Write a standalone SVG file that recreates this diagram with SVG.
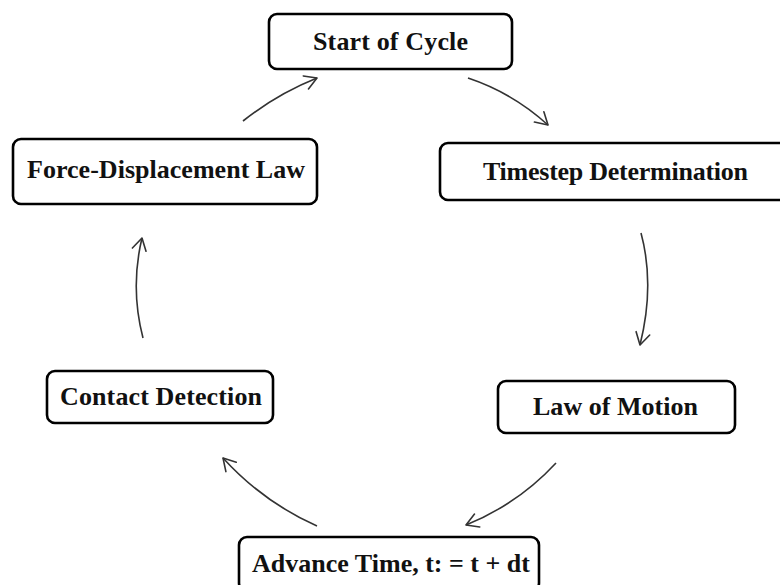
<svg xmlns="http://www.w3.org/2000/svg" width="780" height="585" viewBox="0 0 780 585">
<defs>
<style>
.box{fill:#fff;stroke:#000;stroke-width:2.6}
.lbl{font-family:"Liberation Serif","Times New Roman",serif;font-weight:bold;font-size:26px;fill:#111;text-anchor:middle}
.conn{fill:none;stroke:#333;stroke-width:1.6}
</style>
<marker id="arr" markerUnits="userSpaceOnUse" markerWidth="30" markerHeight="30" refX="0" refY="0" viewBox="-15 -15 30 30" orient="auto">
<path d="M-12,-7 L0,0 L-12,7" fill="none" stroke="#333" stroke-width="1.6" stroke-linecap="round" stroke-linejoin="round"/>
</marker>
</defs>
<rect width="780" height="585" fill="#fff"/>
<g id="connectors">
<path class="conn" d="M243,121 Q277,94 317,78" marker-end="url(#arr)"/>
<path class="conn" d="M468,78 Q513,93 548,125" marker-end="url(#arr)"/>
<path class="conn" d="M641,233 Q655,285 640,345" marker-end="url(#arr)"/>
<path class="conn" d="M556,463 Q518,504 466,525" marker-end="url(#arr)"/>
<path class="conn" d="M317,526 Q263,502 223,458" marker-end="url(#arr)"/>
<path class="conn" d="M143,338 Q130,288 142,238" marker-end="url(#arr)"/>
</g>
<g id="start">
<rect class="box" x="269" y="14" width="243" height="55" rx="8"/>
<text class="lbl" x="390.5" y="50" textLength="155" lengthAdjust="spacing">Start of Cycle</text>
</g>
<g id="timestep">
<rect class="box" x="440" y="143" width="352" height="57" rx="8"/>
<text class="lbl" x="615.5" y="180" textLength="265" lengthAdjust="spacing">Timestep Determination</text>
</g>
<g id="motion">
<rect class="box" x="498" y="381" width="237" height="52" rx="8"/>
<text class="lbl" x="615.5" y="415" textLength="165" lengthAdjust="spacing">Law of Motion</text>
</g>
<g id="advance">
<rect class="box" x="239" y="537" width="300" height="54" rx="8"/>
<text class="lbl" x="391" y="572" textLength="278" lengthAdjust="spacing">Advance Time, t: = t + dt</text>
</g>
<g id="contact">
<rect class="box" x="47" y="371" width="226" height="52" rx="8"/>
<text class="lbl" x="161" y="405" textLength="202" lengthAdjust="spacing">Contact Detection</text>
</g>
<g id="force">
<rect class="box" x="13" y="139" width="304" height="65" rx="8"/>
<text class="lbl" x="166" y="178" textLength="278" lengthAdjust="spacing">Force-Displacement Law</text>
</g>
</svg>
